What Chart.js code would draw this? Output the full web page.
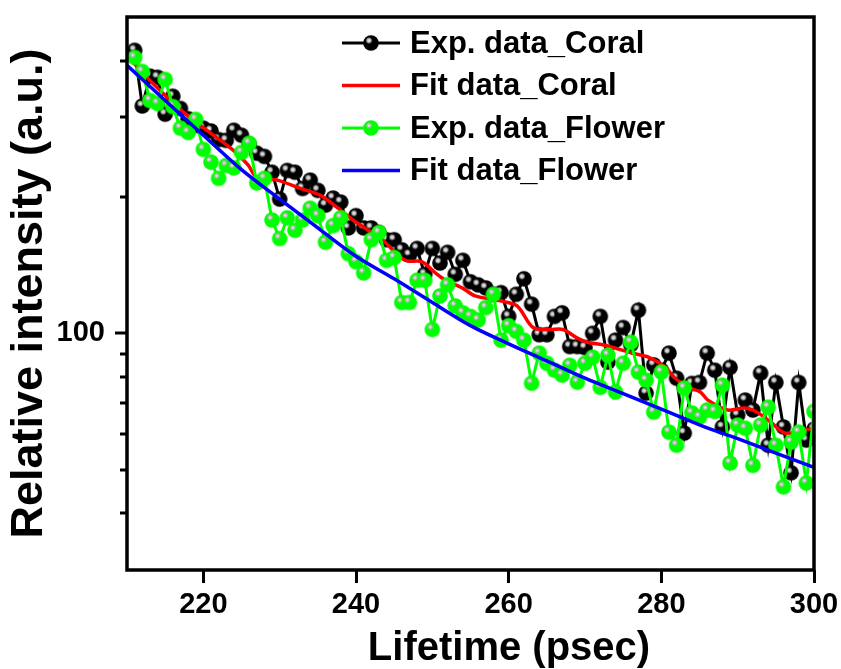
<!DOCTYPE html>
<html>
<head>
<meta charset="utf-8">
<title>Lifetime decay</title>
<script src="https://cdn.jsdelivr.net/npm/chart.js@4.4.0/dist/chart.umd.min.js"></script>
<style>
  html, body { margin: 0; padding: 0; background: #fff; }
  #wrap { width: 841px; height: 669px; }
</style>
</head>
<body>
<div id="wrap"><canvas id="chart" width="841" height="669"></canvas></div>
<script>
// measured decay, one sample per psec
const expTime = [
  211, 212, 213, 214, 215, 216, 217, 218, 219, 220,
  221, 222, 223, 224, 225, 226, 227, 228, 229, 230,
  231, 232, 233, 234, 235, 236, 237, 238, 239, 240,
  241, 242, 243, 244, 245, 246, 247, 248, 249, 250,
  251, 252, 253, 254, 255, 256, 257, 258, 259, 260,
  261, 262, 263, 264, 265, 266, 267, 268, 269, 270,
  271, 272, 273, 274, 275, 276, 277, 278, 279, 280,
  281, 282, 283, 284, 285, 286, 287, 288, 289, 290,
  291, 292, 293, 294, 295, 296, 297, 298, 299, 300
];
const coralExp = [
  422, 318, 370, 368, 305, 334, 314, 298, 288, 284,
  280, 268, 267, 281, 274, 262, 250, 246, 227, 198,
  229, 227, 209, 218, 207, 192, 199, 195, 171, 182,
  171, 171, 167, 161, 161, 153, 149, 154, 135, 154,
  143, 151, 135, 145, 130, 128, 126, 122, 123, 109,
  122, 132, 116, 99.3, 99.3, 109, 111, 93.5, 93.5, 93,
  100, 109, 86.4, 96.6, 103, 94.4, 112.5, 73.8, 85.2, 82.9,
  90.4, 79.6, 60.2, 77.5, 77.9, 90.4, 82.9, 62.1, 84.1, 66,
  71.2, 67.7, 81.7, 56.6, 77.9, 62.1, 49.2, 77.9, 58.1, 61.4
];
const flowerExp = [
  407, 379, 327, 322, 364, 317, 284, 278, 297, 255,
  239, 220, 235, 232, 251, 263, 215, 220, 178, 162,
  180, 169, 178, 189, 182, 159, 173, 180, 150, 144,
  136, 161, 167, 145, 147, 117, 117, 131, 131, 102,
  121, 128, 115, 111, 109, 107, 114, 122, 96.6, 104,
  101, 96.6, 77.6, 90.4, 85.9, 82.9, 80.9, 85, 78, 85.9,
  88.6, 76, 89.5, 74.2, 85.9, 95.6, 82.1, 78.8, 67, 82.1,
  60.5, 56.6, 75.7, 66.7, 65.3, 67.7, 67.2, 76.8, 51.7, 62.7,
  61.7, 51.1, 62.7, 68.7, 56.6, 45.8, 57.5, 60.5, 46.7, 67.2
];

// fitted curves
const coralFitTime = [
  210, 213, 217.9, 223.9, 225.9, 227, 229.7, 232.7, 235.3, 237.5,
  239.6, 243.4, 246.4, 248.6, 250.4, 251.7, 253.9, 255.6, 258.9, 261.1,
  263.2, 265.4, 267.1, 269, 270.3, 272.6, 276.2, 278.3, 280.5, 281.8,
  283.5, 285.1, 286.1, 288.7, 291, 292.7, 294.5, 296.2, 298.8, 300
];
const coralFit = [
  411, 362, 303, 254, 235, 221, 218, 209, 202, 190,
  178, 161, 145, 144, 136, 131, 126, 121, 118, 115,
  103, 102, 102, 97.6, 95.6, 94.1, 90.4, 88.6, 84.2, 79.6,
  76, 74.2, 71.2, 67.7, 68.4, 66.7, 63.3, 60.2, 61.1, 61.7
];
const flowerFitTime = [210, 215, 220, 225, 230, 235, 240, 245, 250, 255, 260, 265, 270, 275, 280, 285, 290, 295, 300];
const flowerFit = [391, 327, 274, 230, 198, 171, 148, 132, 117, 104, 94.8, 86.9, 79.6, 73.6, 68, 62.8, 58.5, 54.4, 50.6];

const xTicks = [220, 240, 260, 280, 300];
const yTicks = [40, 50, 60, 70, 80, 90, 100, 200, 300, 400];
const yLabelled = [100];

const FONT = "'Liberation Sans', Arial, Helvetica, sans-serif";

// shaded ball used as the point marker
function ball(color) {
  const c = document.createElement('canvas');
  c.width = 18; c.height = 18;
  const g = c.getContext('2d');
  g.beginPath();
  g.arc(9, 9, 7.8, 0, Math.PI * 2);
  g.fillStyle = color;
  g.fill();
  const hl = g.createRadialGradient(7, 6.5, 0, 7, 6.5, 3.6);
  hl.addColorStop(0, '#f4f4f4');
  hl.addColorStop(0.5, '#b8b8b8');
  hl.addColorStop(1, 'rgba(170,170,170,0)');
  g.beginPath();
  g.arc(7, 6.5, 3.6, 0, Math.PI * 2);
  g.fillStyle = hl;
  g.fill();
  return c;
}

const pts = (xs, ys) => xs.map((x, i) => ({ x: x, y: ys[i] }));

const boxAndLegend = {
  id: 'boxAndLegend',
  afterDraw(chart) {
    const { ctx, chartArea: a, scales } = chart;
    const y = scales.y;
    ctx.save();
    ctx.strokeStyle = '#000';
    ctx.lineWidth = 3.5;
    ctx.strokeRect(a.left, a.top, a.right - a.left, a.bottom - a.top);

    // y tick marks, longer one at the labelled decade
    ctx.lineWidth = 3;
    y.ticks.forEach(t => {
      const py = Math.round(y.getPixelForValue(t.value));
      const len = yLabelled.includes(t.value) ? 12 : 7;
      ctx.beginPath();
      ctx.moveTo(a.left - len, py);
      ctx.lineTo(a.left, py);
      ctx.stroke();
    });

    // x axis title
    ctx.fillStyle = '#000';
    ctx.font = 'bold 40px ' + FONT;
    ctx.textAlign = 'center';
    ctx.textBaseline = 'alphabetic';
    ctx.fillText('Lifetime (psec)', 509, 660);

    // legend
    ctx.font = 'bold 31px ' + FONT;
    ctx.textAlign = 'left';
    ctx.textBaseline = 'middle';
    chart.data.datasets.forEach((ds, i) => {
      const ly = 43 + i * 42.5;
      ctx.strokeStyle = ds.borderColor;
      ctx.lineWidth = ds.borderWidth;
      ctx.beginPath();
      ctx.moveTo(342, ly);
      ctx.lineTo(400, ly);
      ctx.stroke();
      if (ds.pointStyle instanceof HTMLCanvasElement) {
        ctx.drawImage(ds.pointStyle, 371 - 9, ly - 9);
      }
      ctx.fillStyle = '#000';
      ctx.fillText(ds.label, 410, ly + 1);
    });
    ctx.restore();
  }
};

new Chart(document.getElementById('chart'), {
  type: 'line',
  data: {
    datasets: [
      {
        label: 'Exp. data_Coral',
        data: pts(expTime, coralExp),
        borderColor: '#000000',
        borderWidth: 3,
        pointStyle: ball('#000000'),
        pointRadius: 7.8,
        order: 4
      },
      {
        label: 'Fit data_Coral',
        data: pts(coralFitTime, coralFit),
        borderColor: '#ff0000',
        borderWidth: 3.5,
        pointRadius: 0,
        tension: 0.3,
        order: 3
      },
      {
        label: 'Exp. data_Flower',
        data: pts(expTime, flowerExp),
        borderColor: '#00ff00',
        borderWidth: 3,
        pointStyle: ball('#00ff00'),
        pointRadius: 7.8,
        order: 2
      },
      {
        label: 'Fit data_Flower',
        data: pts(flowerFitTime, flowerFit),
        borderColor: '#0000ff',
        borderWidth: 3.5,
        pointRadius: 0,
        cubicInterpolationMode: 'monotone',
        order: 1
      }
    ]
  },
  options: {
    responsive: false,
    animation: false,
    devicePixelRatio: 1,
    layout: { padding: { left: 0, right: 27, top: 17, bottom: 0 } },
    plugins: { legend: { display: false }, tooltip: { enabled: false } },
    scales: {
      x: {
        type: 'linear',
        min: 210,
        max: 300,
        afterBuildTicks: s => { s.ticks = xTicks.map(v => ({ value: v })); },
        afterFit: s => { s.height = 99; s.paddingLeft = 0; s.paddingRight = 0; },
        grid: {
          display: true,
          drawOnChartArea: false,
          drawTicks: true,
          tickLength: 13,
          tickWidth: 3,
          tickColor: '#000'
        },
        border: { display: false },
        ticks: {
          color: '#000',
          padding: 5,
          autoSkip: false,
          maxRotation: 0,
          font: { family: FONT, size: 29, weight: 'bold' }
        }
      },
      y: {
        type: 'logarithmic',
        min: 30,
        max: 500,
        afterBuildTicks: s => { s.ticks = yTicks.map(v => ({ value: v })); },
        afterFit: s => { s.width = 127; s.paddingTop = 0; s.paddingBottom = 0; },
        grid: { display: false, drawTicks: false },
        border: { display: false },
        ticks: {
          color: '#000',
          padding: 22,
          autoSkip: false,
          font: { family: FONT, size: 29, weight: 'bold' },
          callback: v => (yLabelled.includes(v) ? String(v) : '')
        },
        title: {
          display: true,
          text: 'Relative intensity (a.u.)',
          color: '#000',
          padding: { top: 3, bottom: 0 },
          font: { family: FONT, size: 45, weight: 'bold' }
        }
      }
    }
  },
  plugins: [boxAndLegend]
});
</script>
</body>
</html>
